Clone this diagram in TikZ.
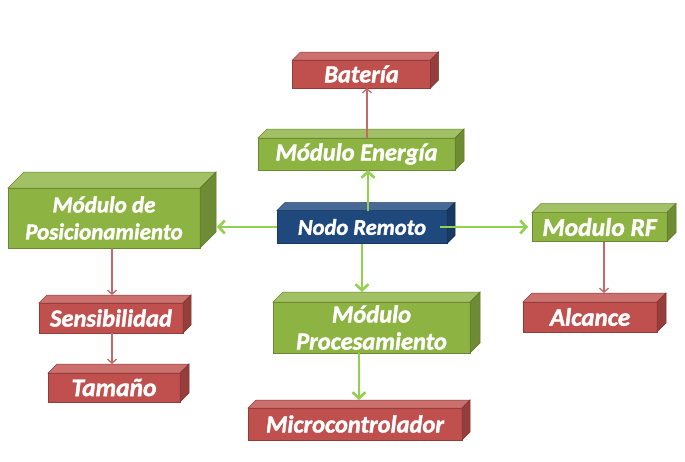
\documentclass[tikz,border=0pt]{standalone}
\usepackage{fontspec}
\newfontfamily\cajafont{Carlito}[BoldItalicFeatures={FakeBold=1.6}]
\usetikzlibrary{arrows.meta, positioning, calc}

\definecolor{verde}{RGB}{141,180,66}
\definecolor{rojo}{RGB}{192,80,77}
\definecolor{azul}{RGB}{31,73,125}
\definecolor{verdeflecha}{RGB}{146,208,80}
\definecolor{rojoflecha}{RGB}{196,104,104}

\tikzset{
  caja/.style={draw=#1!75!black, fill=#1, text=white, inner sep=0pt, outer sep=0pt,
    align=center, line width=0.5pt,
    font=\cajafont\bfseries\itshape\fontsize{24.5pt}{27pt}\selectfont},
  letra/.style={font=\cajafont\bfseries\itshape\fontsize{#1}{27pt}\selectfont},
  flechaverde/.style={verdeflecha, line width=2.6pt, -{Straight Barb[length=6pt,width=13pt]}},
  flecharoja/.style={rojoflecha, line width=1.3pt, -{Straight Barb[length=4pt,width=9pt]}},
}

\begin{document}
\begin{tikzpicture}[x=1pt,y=-1pt]
  \useasboundingbox[fill=white] (0,0) rectangle (685,461);

  % Nodo central
  \node[caja=azul, letra=22.5pt, minimum width=170pt, minimum height=33pt] (nodo) at (362,227) {Nodo Remoto};

  % Modulos
  \node[caja=verde, minimum width=197pt, minimum height=32pt] (energia) at (356.5,154) {Módulo Energía};
  \node[caja=verde, letra=23pt, minimum width=192pt, minimum height=60pt] (posic) at (104,218) {Módulo de\\Posicionamiento};
  \node[caja=verde, minimum width=197pt, minimum height=51pt] (proces) at (371.5,327.5) {Módulo\\Procesamiento};
  \node[caja=verde, letra=25.5pt, minimum width=135pt, minimum height=29pt] (rf) at (599.5,227) {Modulo RF};

  % Requisitos
  \node[caja=rojo, minimum width=138pt, minimum height=28pt] (bateria) at (361.5,74) {Batería};
  \node[caja=rojo, minimum width=144pt, minimum height=30pt] (sensib) at (111,318) {Sensibilidad};
  \node[caja=rojo, letra=25.5pt, minimum width=132pt, minimum height=29pt] (tamano) at (114,387.5) {Tamaño};
  \node[caja=rojo, minimum width=214pt, minimum height=32pt] (micro) at (355,424) {Microcontrolador};
  \node[caja=rojo, letra=25pt, minimum width=134pt, minimum height=30pt] (alcance) at (590,317) {Alcance};

  % Caras 3D
  \foreach \n/\c/\d in {nodo/azul/8, energia/verde/9, posic/verde/16, proces/verde/10, rf/verde/9,
      bateria/rojo/8, sensib/rojo/8, tamano/rojo/9, micro/rojo/8, alcance/rojo/9}{
    \filldraw[fill=\c!82!white, draw=\c!75!black, line width=0.5pt]
      (\n.north west) -- ++(\d pt,\d pt) -- ([shift={(\d pt,\d pt)}]\n.north east) -- (\n.north east) -- cycle;
    \filldraw[fill=\c!78!black, draw=\c!65!black, line width=0.5pt]
      (\n.north east) -- ++(\d pt,\d pt) -- ([shift={(\d pt,\d pt)}]\n.south east) -- (\n.south east) -- cycle;
  }

  % Flechas
  \draw[flechaverde] ([xshift=6pt]nodo.north) -- ([xshift=11.5pt]energia.south);
  \draw[flecharoja] ([xshift=10.5pt]energia.north) -- ([xshift=5.5pt]bateria.south);
  \draw[flechaverde] (nodo.west) -- ($(nodo.west -| posic.east)+(17pt,0)$);
  \draw[flechaverde] ([xshift=-7pt]nodo.east) -- ([xshift=-4pt]rf.west);
  \draw[flechaverde] (nodo.south) -- ($(nodo.south |- proces.north)+(0,10pt)$);
  \draw[flechaverde] ([xshift=-12.5pt]proces.south) -- ([shift={(4pt,8pt)}]micro.north);
  \draw[flecharoja] ([xshift=8pt]posic.south) -- ([shift={(1pt,8pt)}]sensib.north);
  \draw[flecharoja] ([xshift=1pt]sensib.south) -- ([shift={(-2pt,9pt)}]tamano.north);
  \draw[flecharoja] ([xshift=4.5pt]rf.south) -- ([shift={(14pt,9pt)}]alcance.north);
\end{tikzpicture}
\end{document}
